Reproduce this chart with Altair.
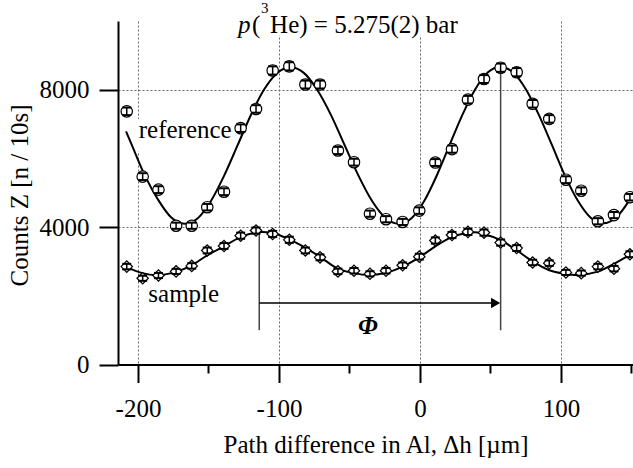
import altair as alt
import pandas as pd

# ---------------- data ----------------
dh = [-208.0, -196.7, -185.5, -173.0, -161.9, -150.9, -139.0, -127.2, -116.3, -104.5,
      -92.7, -81.3, -70.9, -58.2, -46.8, -35.5, -24.1, -12.3, -0.5, 10.9,
      22.7, 34.0, 45.4, 57.2, 68.6, 79.9, 91.7, 103.5, 114.4, 126.2, 137.6, 148.9]
ref_counts = [7370, 5470, 5090, 4040, 4040, 4580, 5030, 6880, 7440, 8560,
              8680, 8150, 8150, 6230, 5890, 4390, 4230, 4150, 4480, 5880,
              6270, 7710, 8310, 8640, 8510, 7590, 7150, 5380, 5060, 4170, 4350, 4870]
ref_err = [110, 100, 100, 90, 90, 95, 100, 110, 110, 120,
           120, 115, 115, 105, 100, 90, 90, 90, 95, 100,
           105, 110, 115, 120, 120, 110, 110, 100, 95, 90, 90, 95]
sample_counts = [2850, 2510, 2590, 2710, 2870, 3320, 3450, 3750, 3900, 3800,
                 3630, 3320, 3120, 2710, 2730, 2640, 2730, 2890, 3140, 3610,
                 3770, 3860, 3840, 3550, 3390, 2970, 2950, 2680, 2660, 2850, 2790, 3210]
sample_err = [80, 75, 75, 75, 80, 85, 85, 90, 90, 90,
              90, 85, 85, 80, 80, 75, 80, 80, 85, 90,
              90, 90, 90, 90, 85, 80, 80, 75, 75, 80, 80, 85]

ref_fit_x = [-208.5, -204.5, -195.1, -185.8, -176.4, -167, -157.6, -148.3, -138.9, -129.5,
             -120.1, -110.8, -101.4, -92, -82.4, -72.8, -63.1, -53.5, -43.9, -34.3,
             -24.6, -15, -6, 3, 12, 21, 30, 39, 48, 57,
             66.1, 75.3, 84.4, 93.5, 102.6, 111.8, 120.9, 130, 139.1, 148.3, 151.1]
ref_fit_y = [6790, 6400, 5500, 4800, 4280, 4100, 4260, 4760, 5500, 6370,
             7250, 7990, 8480, 8650, 8490, 7990, 7260, 6390, 5520, 4780,
             4270, 4095, 4260, 4760, 5510, 6390, 7260, 8000, 8500, 8670,
             8500, 8000, 7260, 6400, 5520, 4780, 4280, 4110, 4280, 4770, 4960]
sample_fit_x = [-208.5, -197, -187, -173.5, -162.6, -150.9, -139, -127.7, -112, -105,
                -93, -81.8, -70.4, -58.7, -46.8, -37, -24, -12.3, -0.5, 10.9,
                22.2, 33.5, 39, 44.9, 56.7, 68.1, 79.9, 91.3, 103, 111,
                126.2, 137.6, 151.1]
sample_fit_y = [2840, 2660, 2600, 2690, 2870, 3180, 3440, 3700, 3855, 3830,
                3650, 3410, 3120, 2800, 2660, 2605, 2670, 2850, 3120, 3440,
                3700, 3825, 3850, 3800, 3630, 3340, 3000, 2750, 2640, 2605,
                2705, 2930, 3250]

x_ticks = [-200, -100, 0, 100]
x_minor = [-150, -50, 50, 150]
y_ticks = [0, 4000, 8000]

phi_left, phi_right = -114.0, 57.2
phi_left_top, phi_right_top = 3850, 8660
phi_base, arrow_level = 1000, 1790

FONT = "Liberation Serif"
FS = 25
CAP = 3.2  # half cap width in x units

# ---------------- scales / axes ----------------
xs = alt.Scale(domain=[-214.2, 151.1], nice=False, zero=False)
ys = alt.Scale(domain=[0, 10000], nice=False, zero=False)

xaxis = alt.Axis(values=x_ticks, tickSize=18, labelPadding=14,
                 labelExpr="'' + datum.value",
                 labelFont=FONT, labelFontSize=FS, labelColor="black",
                 titleFont=FONT, titleFontSize=FS, titleColor="black", titleFontWeight="normal",
                 domainColor="black", domainWidth=2, tickColor="black", tickWidth=2,
                 gridColor="#666666", gridDash=[2, 2], gridWidth=1,
                 title="Path difference in Al, Δh [µm]",
                 titleY=88, titleBaseline="alphabetic",
                 grid=True)
yaxis = alt.Axis(values=y_ticks, tickSize=19, labelPadding=10, format="d",
                 labelFont=FONT, labelFontSize=FS, labelColor="black",
                 titleFont=FONT, titleFontSize=FS, titleColor="black", titleFontWeight="normal",
                 domainColor="black", domainWidth=2, tickColor="black", tickWidth=2,
                 gridColor="#666666", gridDash=[2, 2], gridWidth=1,
                 title="Counts Z [n / 10s]", titleX=-99, titleY=174,
                 titleAngle=-90, titleAlign="center", titleBaseline="middle",
                 grid=True)


def X(f):
    return alt.X(f, type="quantitative", scale=xs, axis=xaxis)


def Y(f):
    return alt.Y(f, type="quantitative", scale=ys, axis=yaxis)


pts = pd.DataFrame({"x": dh, "ref": ref_counts, "ref_err": ref_err,
                    "smp": sample_counts, "smp_err": sample_err})
pts["ref_lo"] = pts["ref"] - pts["ref_err"]
pts["ref_hi"] = pts["ref"] + pts["ref_err"]
pts["smp_lo"] = pts["smp"] - pts["smp_err"]
pts["smp_hi"] = pts["smp"] + pts["smp_err"]
pts["cl"] = pts["x"] - CAP
pts["cr"] = pts["x"] + CAP

ref_fit = pd.DataFrame({"x": ref_fit_x, "y": ref_fit_y})
smp_fit = pd.DataFrame({"x": sample_fit_x, "y": sample_fit_y})

base = alt.Chart(pts)

# white boxes behind the in-plot texts (hide the grid there)
boxes = alt.Chart(pd.DataFrame({"x": [-128.0, -201.0], "x2": [30.0, -137.0],
                                "y": [9580, 6200], "y2": [10000, 7150]})).mark_rect(
    color="white").encode(x=X("x"), x2="x2", y=Y("y"), y2="y2")

ref_line = alt.Chart(ref_fit).mark_line(color="black", strokeWidth=2,
                                        interpolate="monotone").encode(x=X("x"), y=Y("y"))
smp_line = alt.Chart(smp_fit).mark_line(color="black", strokeWidth=2,
                                        interpolate="monotone").encode(x=X("x"), y=Y("y"))

vlines = alt.Chart(pd.DataFrame({"x": [phi_left, phi_right],
                                 "y": [phi_base, phi_base],
                                 "y2": [phi_left_top, phi_right_top]})).mark_rule(
    color="#444444", strokeWidth=1.5).encode(x=X("x"), y=Y("y"), y2="y2")

arrow = alt.Chart(pd.DataFrame({"x": [phi_left], "x2": [phi_right - 6],
                                "y": [arrow_level]})).mark_rule(
    color="black", strokeWidth=1.5).encode(x=X("x"), x2="x2", y=Y("y"))
arrow_head = alt.Chart(pd.DataFrame({"x": [phi_right], "y": [arrow_level]})).mark_point(
    shape="triangle-right", size=110, filled=True, color="black", xOffset=-5,
    opacity=1).encode(x=X("x"), y=Y("y"))

minor = alt.Chart(pd.DataFrame({"x": x_minor, "y": [0] * 4, "y2": [-262] * 4})).mark_rule(
    color="black", strokeWidth=2).encode(x=X("x"), y=Y("y"), y2="y2")

ref_pts = base.mark_point(shape="circle", filled=True, fill="white", stroke="black",
                          strokeWidth=1.2, size=130, opacity=1).encode(x=X("x"), y=Y("ref"))
smp_pts = base.mark_point(shape="diamond", filled=True, fill="white", stroke="black",
                          strokeWidth=1.2, size=130, opacity=1).encode(x=X("x"), y=Y("smp"))

ref_eb = base.mark_rule(color="black", strokeWidth=1.5).encode(x=X("x"), y=Y("ref_lo"), y2="ref_hi")
smp_eb = base.mark_rule(color="black", strokeWidth=1.5).encode(x=X("x"), y=Y("smp_lo"), y2="smp_hi")
caps = []
for f in ["ref_lo", "ref_hi", "smp_lo", "smp_hi"]:
    caps.append(base.mark_rule(color="black", strokeWidth=2).encode(
        x=X("cl"), x2="cr", y=Y(f)))


def label(txt, x, y, size=FS, **kw):
    return alt.Chart(pd.DataFrame({"x": [x], "y": [y], "t": [txt]})).mark_text(
        font=FONT, fontSize=size, color="black", **kw
    ).encode(x=X("x"), y=Y("y"), text="t:N")


t_ref = label("reference", -199.5, 6593, align="left", baseline="alphabetic")
t_smp = label("sample", -192.7, 1830, align="left", baseline="alphabetic")
t_phi = label("Φ", -36.9, 1122, align="center", baseline="middle",
              fontStyle="italic", fontWeight="bold")
title_x, title_y = -129.0, 9662
t1 = label("p", title_x, title_y, align="left", baseline="alphabetic", fontStyle="italic")
t2 = label("(", title_x, title_y, align="left", baseline="alphabetic", dx=14)
t3 = label("3", title_x, title_y, size=15, align="left", baseline="alphabetic", dx=23, dy=-20)
t4 = label("He) = 5.275(2) bar", title_x, title_y, align="left", baseline="alphabetic", dx=32)

chart = alt.layer(
    boxes, ref_line, smp_line, vlines, arrow, arrow_head, minor,
    ref_pts, smp_pts, ref_eb, smp_eb, *caps,
    t_ref, t_smp, t_phi, t1, t2, t3, t4
).properties(
    width=515, height=343.5,
    padding={"left": 118, "top": 21, "right": 0, "bottom": 103.5},
    autosize=alt.AutoSizeParams(type="none"),
).configure_view(stroke=None)

chart.save("out.html", embed_options={"renderer": "svg", "actions": False})
